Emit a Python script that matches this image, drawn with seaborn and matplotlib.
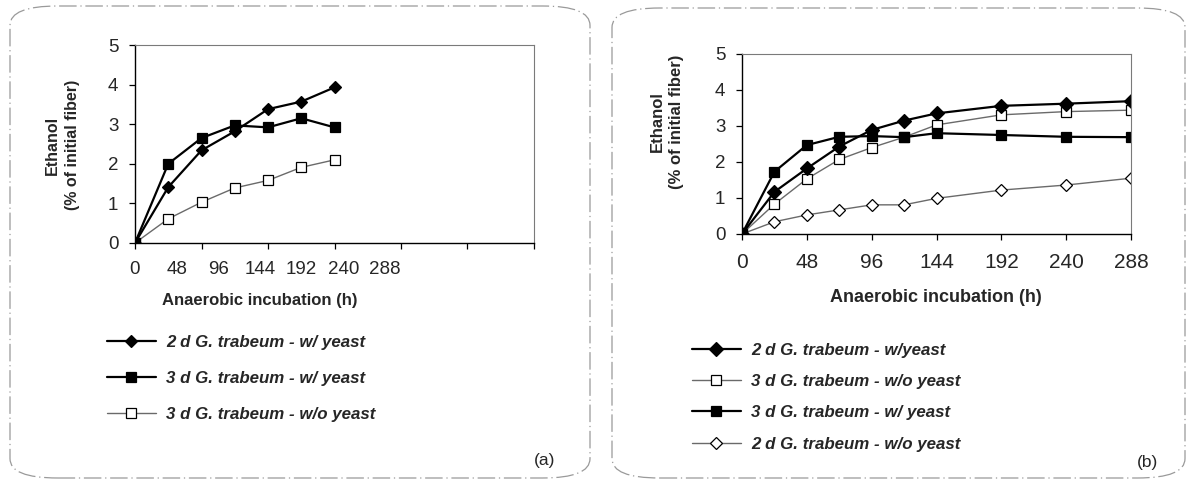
import numpy as np
import pandas as pd
import seaborn as sns
import matplotlib
matplotlib.use("Agg")
import matplotlib.pyplot as plt
from matplotlib.patches import FancyBboxPatch

sns.set_style("white")
plt.rcParams["font.family"] = ["Liberation Sans", "DejaVu Sans"]

# ---- data ----
hours_a = [0, 24, 48, 72, 96, 120, 144]
a_2d_yeast = [0, 1.41, 2.34, 2.82, 3.38, 3.57, 3.93]
a_3d_yeast = [0, 2.00, 2.65, 2.97, 2.92, 3.15, 2.92]
a_3d_no_yeast = [0, 0.61, 1.03, 1.39, 1.58, 1.91, 2.10]

hours_b = [0, 24, 48, 72, 96, 120, 144, 192, 240, 288]
b_2d_yeast = [0, 1.17, 1.82, 2.43, 2.89, 3.15, 3.35, 3.56, 3.62, 3.69]
b_3d_no_yeast = [0, 0.83, 1.53, 2.07, 2.40, 2.69, 3.03, 3.31, 3.40, 3.44]
b_3d_yeast = [0, 1.73, 2.47, 2.70, 2.72, 2.69, 2.80, 2.75, 2.70, 2.69]
b_2d_no_yeast = [0, 0.34, 0.53, 0.67, 0.81, 0.81, 0.99, 1.22, 1.36, 1.55]

x_ticks = [0, 48, 96, 144, 192, 240, 288]
y_ticks = [0, 1, 2, 3, 4, 5]

W, H = 1191, 483
fig = plt.figure(figsize=(W / 100, H / 100), dpi=100)


def fx(px):
    return px / W


def fy(py):
    return 1 - py / H


# rounded panel outlines
for (x0, y0, x1, y1) in [(10, 6, 590, 478), (612, 8, 1185, 478)]:
    box = FancyBboxPatch((fx(x0), fy(y1)), fx(x1) - fx(x0), fy(y0) - fy(y1),
                         boxstyle="round,pad=0,rounding_size=0.04",
                         transform=fig.transFigure, fill=False,
                         edgecolor="#9a9a9a", lw=0.9, linestyle=(0, (14, 3, 1, 3)))
    fig.patches.append(box)

ax_a = fig.add_axes([fx(135), fy(243), fx(534) - fx(135), fy(45) - fy(243)])
ax_b = fig.add_axes([fx(742), fy(234), fx(1131) - fx(742), fy(54) - fy(234)])

yeast_kw = dict(color="black", lw=1.6)
noyeast_kw = dict(color="#6a6a6a", lw=1.0)


def series(ax, x, y, marker, filled, kw, label, ms):
    sns.lineplot(x=x, y=y, ax=ax, marker=marker, markersize=ms,
                 markerfacecolor="black" if filled else "white",
                 markeredgecolor="black", markeredgewidth=0.9,
                 label=label, legend=False, **kw)


series(ax_a, hours_a, a_3d_no_yeast, "s", False, noyeast_kw, "3 d G. trabeum - w/o yeast", 7)
series(ax_a, hours_a, a_3d_yeast, "s", True, yeast_kw, "3 d G. trabeum - w/ yeast", 7)
series(ax_a, hours_a, a_2d_yeast, "D", True, yeast_kw, "2 d G. trabeum - w/ yeast", 6.5)

series(ax_b, hours_b, b_2d_no_yeast, "D", False, noyeast_kw, "2 d G. trabeum - w/o yeast", 6.5)
series(ax_b, hours_b, b_3d_no_yeast, "s", False, noyeast_kw, "3 d G. trabeum - w/o yeast", 7.5)
series(ax_b, hours_b, b_3d_yeast, "s", True, yeast_kw, "3 d G. trabeum - w/ yeast", 7.5)
series(ax_b, hours_b, b_2d_yeast, "D", True, yeast_kw, "2 d G. trabeum - w/yeast", 7)

for ax in (ax_a, ax_b):
    ax.set_xlim(0, 288)
    ax.set_ylim(0, 5)
    ax.set_yticks(y_ticks)
    ax.set_xticks(x_ticks)
    ax.set_xlabel("")
    ax.set_ylabel("")
    for s in ("left", "bottom"):
        ax.spines[s].set_color("black")
        ax.spines[s].set_linewidth(1.0)
    for s in ("top", "right"):
        ax.spines[s].set_color("#7a7a7a")
        ax.spines[s].set_linewidth(0.8)
    ax.tick_params(axis="both", direction="out", length=4, width=0.9, color="black",
                   left=True, bottom=True)
    ax.set_facecolor("none")

# panel (a): hour labels printed over a compressed span of the axis
label_span_px = 250.0
axis_span_px = 534.0 - 135.0
k = axis_span_px / label_span_px
ax_a.tick_params(axis="x", labelbottom=False)
ax_a.tick_params(axis="y", labelsize=13.5, pad=8)
sec = ax_a.secondary_xaxis("bottom", functions=(lambda x: x * k, lambda s: s / k))
sec.set_xticks(x_ticks)
sec.tick_params(length=0, labelsize=13.5, pad=13)
sec.spines["bottom"].set_visible(False)
ax_a.set_xlim(0, 288)

ax_b.tick_params(axis="y", labelsize=13.5, pad=8)
ax_b.tick_params(axis="x", labelsize=15, pad=10)

# axis titles
fig.text(fx(52), fy(145), "Ethanol", rotation=90, ha="center", va="center",
         fontsize=11.5, fontweight="bold")
fig.text(fx(72), fy(145), "(% of initial fiber)", rotation=90, ha="center", va="center",
         fontsize=11.5, fontweight="bold")
fig.text(fx(260), fy(301), "Anaerobic incubation (h)", ha="center", va="center",
         fontsize=12, fontweight="bold")

fig.text(fx(657), fy(122), "Ethanol", rotation=90, ha="center", va="center",
         fontsize=12, fontweight="bold")
fig.text(fx(677), fy(122), "(% of initial fiber)", rotation=90, ha="center", va="center",
         fontsize=12, fontweight="bold")
fig.text(fx(936), fy(298), "Anaerobic incubation (h)", ha="center", va="center",
         fontsize=13, fontweight="bold")

fig.text(fx(545), fy(460), "(a)", ha="center", va="center", fontsize=12.5)
fig.text(fx(1147), fy(463), "(b)", ha="center", va="center", fontsize=12.5)

# legends
def legend_for(ax, order, anchor, spacing):
    handles, labels = ax.get_legend_handles_labels()
    lookup = dict(zip(labels, handles))
    leg = fig.legend([lookup[o] for o in order], order, loc="upper left",
                     bbox_to_anchor=anchor, bbox_transform=fig.transFigure,
                     frameon=False, handlelength=2.9, handletextpad=0.6,
                     labelspacing=spacing, numpoints=1, borderpad=0.3,
                     prop=dict(family="Liberation Sans", weight="bold", style="italic", size=12.2))
    return leg


legend_for(ax_a, ["2 d G. trabeum - w/ yeast", "3 d G. trabeum - w/ yeast",
                  "3 d G. trabeum - w/o yeast"], (fx(93), fy(321)), 1.25)
legend_for(ax_b, ["2 d G. trabeum - w/yeast", "3 d G. trabeum - w/o yeast",
                  "3 d G. trabeum - w/ yeast", "2 d G. trabeum - w/o yeast"],
           (fx(678), fy(329)), 0.97)

fig.savefig("out.png", dpi=100, facecolor="white")
